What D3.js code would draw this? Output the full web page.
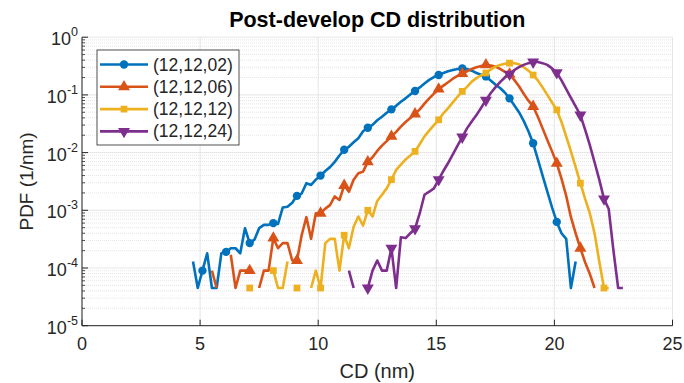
<!DOCTYPE html>
<html>
<head>
<meta charset="utf-8">
<script src="https://cdn.jsdelivr.net/npm/d3@7"></script>
<style>
body { margin: 0; background: #fff; }
text { font-family: Arial, "Liberation Sans", Helvetica, sans-serif; fill: #262626; }
</style>
</head>
<body>
<div id="chart"></div>
<script>
// legend names + colours (matlab default order)
var seriesNames = ["(12,12,02)", "(12,12,06)", "(12,12,12)", "(12,12,24)"];
var seriesColors = ["#0072BD", "#D95319", "#EDB120", "#7E2F8E"];

// histogram bins are 0.2 nm wide, first non-empty bin center of every curve
var binStart = [4.7, 5.5, 7.1, 11.3];
var binWidth = 0.2;

// PDF values, null = empty bin (nothing drawn on log axis)
var pdf02 = [1.3e-4, 4.5e-5, 9e-5, 1.8e-4, 4.5e-5, 4.5e-5, 1.8e-4, 1.9e-4, 2.2e-4, 2.2e-4,
  1.8e-4, 4.9e-4, 2.7e-4, 3.1e-4, 4.9e-4, 5.6e-4, 5.6e-4, 6.0e-4, 5.8e-4, 1.12e-3,
  1.15e-3, 1.35e-3, 1.78e-3, 1.95e-3, 2.95e-3, 2.75e-3, 3.4e-3, 4.0e-3, 4.8e-3, 5.6e-3,
  6.9e-3, 8.9e-3, 1.12e-2, 1.26e-2, 1.51e-2, 1.78e-2, 2.34e-2, 2.69e-2, 3.02e-2, 3.63e-2,
  4.17e-2, 4.9e-2, 5.62e-2, 6.46e-2, 7.59e-2, 8.71e-2, 0.102, 0.117, 0.135, 0.158,
  0.182, 0.204, 0.221, 0.240, 0.257, 0.269, 0.282, 0.288, 0.282, 0.263,
  0.240, 0.224, 0.209, 0.178, 0.151, 0.132, 0.110, 0.0871, 0.0661, 0.0501,
  0.0355, 0.0234, 0.0145, 7.6e-3, 4.0e-3, 2.1e-3, 1.12e-3, 6.3e-4, 4.0e-4, 3.2e-4,
  4.5e-5, 1.3e-4];

var pdf06 = [9e-5, 4.5e-5, null, null, 1.7e-4, 4.5e-5, 9e-5, 9e-5, 9e-5, null,
  4.5e-5, 9e-5, 9e-5, 3.3e-4, 2.2e-4, 2.7e-4, 2.7e-4, 1.35e-4, 1.35e-4, 3.7e-4,
  7.6e-4, 3.2e-4, 8.9e-4, 8.9e-4, 1.07e-3, 1.23e-3, 1.74e-3, 1.51e-3, 2.69e-3, 2.09e-3,
  3.39e-3, 4.37e-3, 4.68e-3, 6.9e-3, 8.3e-3, 1.07e-2, 1.32e-2, 1.58e-2, 1.91e-2, 2.29e-2,
  2.82e-2, 3.39e-2, 3.98e-2, 4.68e-2, 5.62e-2, 7.08e-2, 8.71e-2, 0.105, 0.126, 0.145,
  0.166, 0.191, 0.214, 0.234, 0.257, 0.282, 0.302, 0.316, 0.331, 0.324,
  0.309, 0.282, 0.251, 0.229, 0.182, 0.141, 0.105, 0.0794, 0.0631, 0.0417,
  0.0263, 0.0166, 0.0105, 6.5e-3, 3.55e-3, 1.78e-3, 7.6e-4, 4.0e-4, 2.2e-4, 1.26e-4,
  7.9e-5, 4.5e-5];

var pdf12 = [4.5e-5, null, null, null, null, 9e-5, 4.5e-5, 4.5e-5, 1.3e-4, null,
  4.5e-5, null, null, 4.5e-5, 9e-5, 4.5e-5, 2.7e-4, 3.2e-4, 3.2e-4, 9e-5,
  3.7e-4, 2.2e-4, 5.2e-4, 7.8e-4, 5.4e-4, 1.0e-3, 7.8e-4, 1.45e-3, 1.86e-3, 2.4e-3,
  3.4e-3, 5.0e-3, 6.2e-3, 7.6e-3, 8.9e-3, 1.05e-2, 1.41e-2, 1.91e-2, 2.4e-2, 3.0e-2,
  3.7e-2, 4.8e-2, 5.9e-2, 7.4e-2, 9.3e-2, 0.115, 0.138, 0.170, 0.195, 0.219,
  0.240, 0.275, 0.309, 0.331, 0.347, 0.355, 0.355, 0.339, 0.302, 0.263,
  0.221, 0.178, 0.135, 0.100, 0.074, 0.055, 0.034, 0.019, 0.0105, 5.6e-3,
  2.95e-3, 1.58e-3, 8.9e-4, 4.0e-4, 1.3e-4, 4.5e-5, 4.5e-5];

var pdf24 = [9e-5, 4.5e-5, null, null, 4.5e-5, 9e-5, 1.35e-4, 9e-5, 9e-5, 2.2e-4,
  4.5e-5, 3.4e-4, 3.3e-4, 4.0e-4, 4.8e-4, 8.9e-4, 1.86e-3, 2.1e-3, 2.4e-3, 3.4e-3,
  4.8e-3, 6.6e-3, 9.3e-3, 1.32e-2, 1.86e-2, 2.63e-2, 3.47e-2, 4.47e-2, 6.0e-2, 8.1e-2,
  0.107, 0.135, 0.166, 0.200, 0.229, 0.269, 0.302, 0.331, 0.355, 0.372,
  0.372, 0.355, 0.331, 0.288, 0.243, 0.178, 0.126, 0.089, 0.063, 0.0447,
  0.0251, 0.0135, 6.8e-3, 3.4e-3, 1.58e-3, 1.05e-3, 2.0e-4, 4.5e-5, 4.5e-5];

var allPdf = [pdf02, pdf06, pdf12, pdf24];

// axis ticks
var xTicks = [0, 5, 10, 15, 20, 25];
var yTicks = [1e-5, 1e-4, 1e-3, 1e-2, 1e-1, 1];
var yExponents = ["-5", "-4", "-3", "-2", "-1", "0"];

var W = 684, H = 383;
var margin = {top: 37.2, right: 11.5, bottom: 57.3, left: 82};

var svg = d3.select("#chart").append("svg")
    .attr("width", W)
    .attr("height", H);

var x = d3.scaleLinear().domain([0, 25]).range([margin.left, W - margin.right]);
var y = d3.scaleLog().domain([1e-5, 1]).range([H - margin.bottom, margin.top]);

// minor grid (dotted) for log axis
var minorY = [];
for (var d = -5; d < 0; d++) {
  for (var k = 2; k <= 9; k++) minorY.push(k * Math.pow(10, d));
}
svg.append("g").selectAll("line").data(minorY).enter().append("line")
    .attr("x1", x(0)).attr("x2", x(25))
    .attr("y1", function(v) { return y(v); }).attr("y2", function(v) { return y(v); })
    .attr("stroke", "#d4d4d4").attr("stroke-width", 0.6)
    .attr("stroke-dasharray", "1,1");

// major grid
svg.append("g").selectAll("line").data(yTicks).enter().append("line")
    .attr("x1", x(0)).attr("x2", x(25))
    .attr("y1", function(v) { return y(v); }).attr("y2", function(v) { return y(v); })
    .attr("stroke", "#dedede").attr("stroke-width", 0.8);
svg.append("g").selectAll("line").data(xTicks).enter().append("line")
    .attr("x1", function(v) { return x(v); }).attr("x2", function(v) { return x(v); })
    .attr("y1", y(1e-5)).attr("y2", y(1))
    .attr("stroke", "#dedede").attr("stroke-width", 0.8);

// curves
var line = d3.line()
    .defined(function(p) { return p.v != null; })
    .x(function(p) { return x(p.cd); })
    .y(function(p) { return y(p.v); });

var symbols = [
  d3.symbol().type(d3.symbolCircle).size(55),
  d3.symbol().type(d3.symbolTriangle).size(62),
  d3.symbol().type(d3.symbolSquare).size(46),
  d3.symbol().type(d3.symbolTriangle).size(62)
];

allPdf.forEach(function(vals, s) {
  var pts = vals.map(function(v, i) {
    return {cd: binStart[s] + i * binWidth, v: v};
  });
  svg.append("path")
      .datum(pts)
      .attr("fill", "none")
      .attr("stroke", seriesColors[s])
      .attr("stroke-width", 2.6)
      .attr("stroke-linejoin", "round")
      .attr("d", line);

  // marker every 1 nm (bins at x.1)
  var marked = pts.filter(function(p) {
    return p.v != null && Math.round((p.cd - 0.1) * 5) % 5 === 0;
  });
  svg.append("g").selectAll("path").data(marked).enter().append("path")
      .attr("d", symbols[s])
      .attr("fill", seriesColors[s])
      .attr("transform", function(p) {
        return "translate(" + x(p.cd) + "," + y(p.v) + ")" + (s === 3 ? " rotate(180)" : "");
      });
});

// axes lines
var axisColor = "#262626";
svg.append("line")
    .attr("x1", x(0)).attr("x2", x(0)).attr("y1", y(1e-5)).attr("y2", y(1))
    .attr("stroke", axisColor).attr("stroke-width", 1);
svg.append("line")
    .attr("x1", x(0)).attr("x2", x(25)).attr("y1", y(1e-5)).attr("y2", y(1e-5))
    .attr("stroke", axisColor).attr("stroke-width", 1);

// x ticks (inside)
svg.append("g").selectAll("line").data(xTicks).enter().append("line")
    .attr("x1", function(v) { return x(v); }).attr("x2", function(v) { return x(v); })
    .attr("y1", y(1e-5)).attr("y2", y(1e-5) - 6)
    .attr("stroke", axisColor);
svg.append("g").selectAll("text").data(xTicks).enter().append("text")
    .attr("x", function(v) { return x(v); })
    .attr("y", y(1e-5) + 24)
    .attr("text-anchor", "middle")
    .style("font-size", "18px")
    .text(function(v) { return v; });

// y ticks (inside), major + minor
svg.append("g").selectAll("line").data(yTicks).enter().append("line")
    .attr("x1", x(0)).attr("x2", x(0) + 6)
    .attr("y1", function(v) { return y(v); }).attr("y2", function(v) { return y(v); })
    .attr("stroke", axisColor);
svg.append("g").selectAll("line").data(minorY).enter().append("line")
    .attr("x1", x(0)).attr("x2", x(0) + 3)
    .attr("y1", function(v) { return y(v); }).attr("y2", function(v) { return y(v); })
    .attr("stroke", axisColor).attr("stroke-width", 0.8);

var yLab = svg.append("g").selectAll("text").data(yTicks).enter().append("text")
    .attr("x", x(0) - 4)
    .attr("y", function(v) { return y(v) + 8; })
    .attr("text-anchor", "end")
    .style("font-size", "18px");
yLab.append("tspan").text("10");
yLab.append("tspan")
    .attr("dy", -9)
    .style("font-size", "12.5px")
    .text(function(v, i) { return yExponents[i]; });

// title + labels
svg.append("text")
    .attr("x", (x(0) + x(25)) / 2)
    .attr("y", 27)
    .attr("text-anchor", "middle")
    .style("font-size", "21.5px")
    .style("font-weight", "bold")
    .style("fill", "#000")
    .text("Post-develop CD distribution");

svg.append("text")
    .attr("x", (x(0) + x(25)) / 2)
    .attr("y", 378)
    .attr("text-anchor", "middle")
    .style("font-size", "20px")
    .text("CD (nm)");

svg.append("text")
    .attr("transform", "translate(33," + ((y(1e-5) + y(1)) / 2) + ") rotate(-90)")
    .attr("text-anchor", "middle")
    .style("font-size", "19px")
    .text("PDF (1/nm)");

// legend
var lg = svg.append("g").attr("transform", "translate(97,50)");
lg.append("rect")
    .attr("width", 142).attr("height", 95)
    .attr("fill", "#fff")
    .attr("stroke", axisColor).attr("stroke-width", 0.8);

seriesNames.forEach(function(name, s) {
  var ly = 14.5 + s * 22.3;
  lg.append("line")
      .attr("x1", 3).attr("x2", 51).attr("y1", ly).attr("y2", ly)
      .attr("stroke", seriesColors[s]).attr("stroke-width", 2.6);
  lg.append("path")
      .attr("d", symbols[s])
      .attr("fill", seriesColors[s])
      .attr("transform", "translate(27," + ly + ")" + (s === 3 ? " rotate(180)" : ""));
  lg.append("text")
      .attr("x", 56).attr("y", ly + 6)
      .style("font-size", "17.5px")
      .text(name);
});
</script>
</body>
</html>
